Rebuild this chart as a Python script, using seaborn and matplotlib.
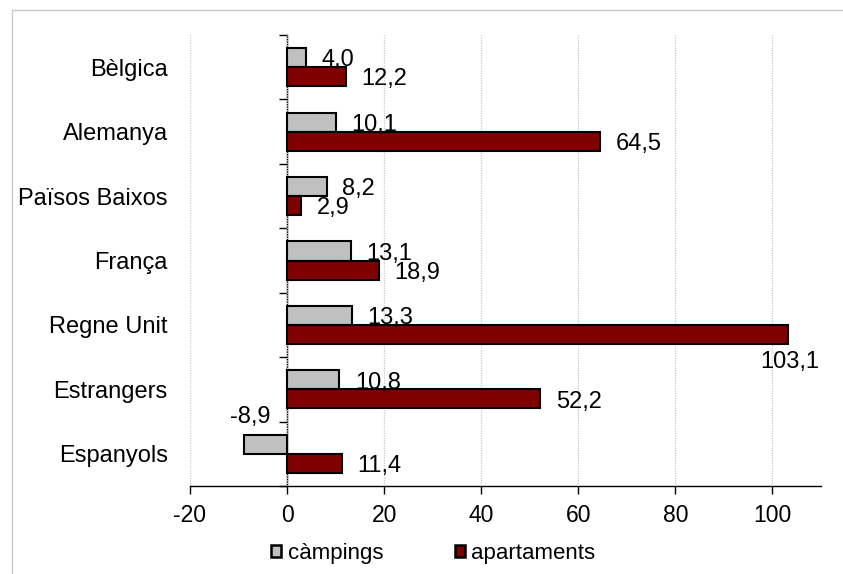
import numpy as np
import pandas as pd
import matplotlib
matplotlib.use("Agg")
from matplotlib import pyplot as plt
from matplotlib.patches import Patch, Rectangle
import seaborn as sns

# chart data
countries = ['Bèlgica', 'Alemanya', 'Països Baixos', 'França', 'Regne Unit', 'Estrangers', 'Espanyols']
series = ['càmpings', 'apartaments']
campings = [4.0, 10.1, 8.2, 13.1, 13.3, 10.8, -8.9]
apartaments = [12.2, 64.5, 2.9, 18.9, 103.1, 52.2, 11.4]
x_ticks = [-20, 0, 20, 40, 60, 80, 100]

colors = ['#c0c0c0', '#800000']

# long format for seaborn
df = pd.DataFrame({
    'pais': countries * 2,
    'serie': [series[0]] * len(countries) + [series[1]] * len(countries),
    'valor': campings + apartaments,
})

sns.set_theme(style='white')
plt.rcParams['font.family'] = ['Liberation Sans', 'DejaVu Sans']
plt.rcParams['text.color'] = 'black'
plt.rcParams['xtick.color'] = 'black'
plt.rcParams['ytick.color'] = 'black'

fig = plt.figure(figsize=(8.43, 5.74), dpi=100)
ax = fig.add_axes([190 / 843, 1 - 486 / 574, (821 - 190) / 843, (486 - 35) / 574])

sns.barplot(data=df, x='valor', y='pais', hue='serie', hue_order=series, order=countries,
            palette=colors, orient='h', width=0.59, saturation=1,
            edgecolor='black', linewidth=1.5, legend=False, ax=ax)

ax.set_xlim(-20, 110)
ax.set_ylim(6.5, -0.5)
ax.set_xticks(x_ticks)
ax.set_xticklabels([str(t) for t in x_ticks])
ax.set_xlabel('')
ax.set_ylabel('')
ax.set_axisbelow(True)
ax.xaxis.grid(True, color='#c8c8c8', linestyle=(0, (1, 1)), linewidth=0.9)
ax.yaxis.grid(False)
for s in ['top', 'right', 'left']:
    ax.spines[s].set_visible(False)
ax.spines['bottom'].set_color('black')
ax.spines['bottom'].set_linewidth(1)
ax.tick_params(axis='x', length=6, width=1, pad=7, labelsize=16.5, bottom=True)
ax.tick_params(axis='y', length=0, pad=16, labelsize=17)

# vertical axis line at zero with ticks between categories
sec = ax.secondary_yaxis(20 / 130)
sec.set_yticks(np.arange(-0.5, len(countries), 1.0))
sec.set_yticklabels([])
sec.tick_params(length=6, width=1, color='black')
sec.spines['left'].set_color('black')
sec.spines['left'].set_linewidth(1)

# data labels
special = {
    ('apartaments', 'Regne Unit'): ((23, -20), 'right'),
    ('càmpings', 'Espanyols'): ((19.5, 20), 'right'),
}
for cont, serie, vals in zip(ax.containers, series, [campings, apartaments]):
    for bar, v, pais in zip(cont, vals, countries):
        xend = bar.get_x() + bar.get_width()
        yc = bar.get_y() + bar.get_height() / 2
        off, ha = special.get((serie, pais), ((11, -2), 'left'))
        ax.annotate(f'{v:.1f}'.replace('.', ','), xy=(xend, yc), xytext=off,
                    textcoords='offset points', ha=ha, va='center', fontsize=17)

handles = [Patch(facecolor=c, edgecolor='black', linewidth=1.8) for c in colors]
fig.legend(handles, series, loc='center', bbox_to_anchor=(433.5 / 843, 1 - 553 / 574),
           ncol=2, frameon=False, fontsize=16, handlelength=0.45, handleheight=0.45,
           handletextpad=0.3, columnspacing=3.2)

# chart frame
fig.add_artist(Rectangle((12 / 843, -0.1), 1.2, 1.1 - 10 / 574, transform=fig.transFigure,
                         facecolor='none', edgecolor='#c8c8c8', linewidth=1))

fig.savefig('out.png', dpi=100)
